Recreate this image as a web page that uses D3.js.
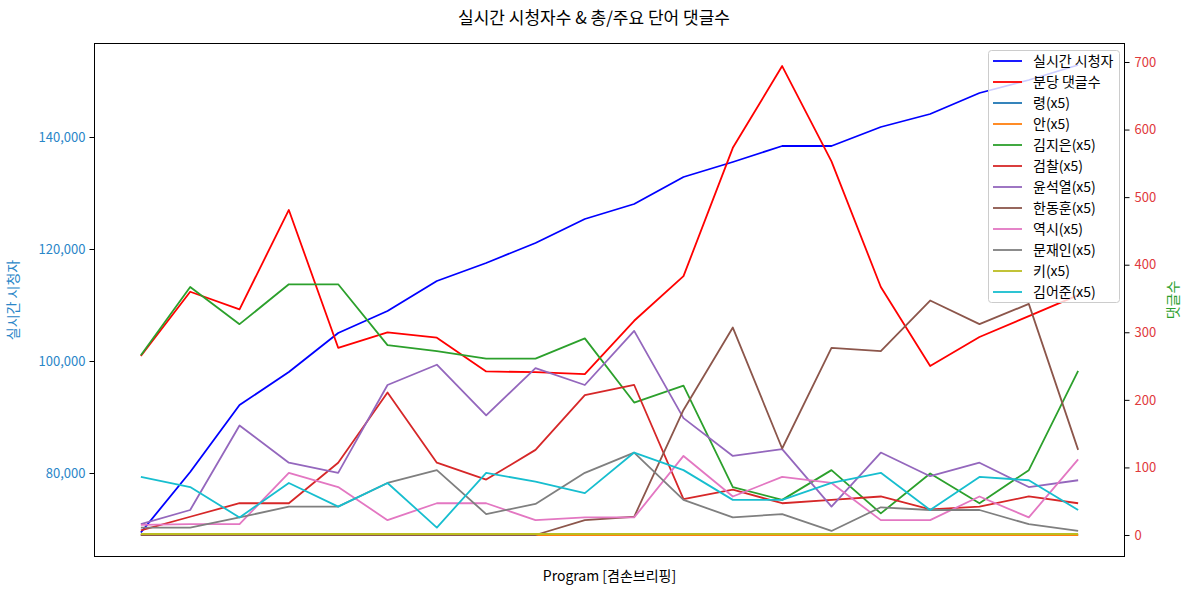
<!DOCTYPE html>
<html><head><meta charset="utf-8">
<script src="https://cdn.jsdelivr.net/npm/d3@7"></script>
<style>
html,body{margin:0;padding:0;background:#fff;}
text{font-family:"Noto Sans CJK KR","Noto Sans",sans-serif;}
</style></head>
<body><svg id="c" width="1189" height="592"></svg>
<script>
const title = "실시간 시청자수 & 총/주요 단어 댓글수";
const xLabel = "Program [겸손브리핑]";
const leftLabel = "실시간 시청자";
const rightLabel = "댓글수";
const leftTicks = [80000, 100000, 120000, 140000];
const rightTicks = [0, 100, 200, 300, 400, 500, 600, 700];
const points = d3.range(20);

const viewers = [69375,80179,92143,98036,105000,108929,114286,117500,121071,125357,128036,132857,135536,138393,138393,141786,144107,147857,150179,152857];
const commentsPerMin = [265,360,334,481,277,300,292,242,241,238,317,383,573,694,553,367,250,293,324,355];

const wordNames = ["령(x5)","안(x5)","김지은(x5)","검찰(x5)","윤석열(x5)","한동훈(x5)","역시(x5)","문재인(x5)","키(x5)","김어준(x5)"];
const wordColors = ["#1f77b4","#ff7f0e","#2ca02c","#d62728","#9467bd","#8c564b","#e377c2","#7f7f7f","#bcbd22","#17becf"];
const w_ryeong = [0,0,0,0,0,0,0,0,0,0,0,0,0,0,0,0,0,0,0,0];
const w_an = [0,0,0,0,0,0,0,0,0,0,0,0,0,0,0,0,0,0,0,0];
const w_kimjieun = [266,367,312,371,371,281,272,261,261,291,196,221,71,52,96,32,91,47,96,243];
const w_prosecution = [7,27,47,47,107,211,107,82,126,207,222,53,67,47,52,57,38,42,57,47];
const w_yoon = [16,37,162,107,92,222,252,177,247,222,302,173,117,127,42,122,87,107,71,81];
const w_han = [0,0,0,0,0,0,0,0,0,22,27,185,307,128,277,272,347,312,342,126];
const w_yeoksi = [15,16,16,92,71,22,47,47,22,26,26,117,57,86,77,22,22,57,26,112];
const w_moon = [11,11,26,42,42,77,96,31,46,92,122,52,26,31,6,41,37,37,16,6];
const w_key = [1.5,1.5,1.5,1.5,1.5,1.5,1.5,1.5,1.5,1.5,1.5,1.5,1.5,1.5,1.5,1.5,1.5,1.5,1.5,1.5];
const w_kimeojun = [86,71,26,77,42,77,11,92,79,62,122,96,52,52,77,92,37,86,81,37];
const wordSeries = [w_ryeong,w_an,w_kimjieun,w_prosecution,w_yoon,w_han,w_yeoksi,w_moon,w_key,w_kimeojun];

const svg = d3.select("#c");
const L = 94, R = 1125, T = 43, B = 557;
const x = d3.scaleLinear().domain([-0.95, 19.95]).range([L, R]);
const yL = d3.scaleLinear().domain([65000, 156786]).range([B, T]);
const yR = d3.scaleLinear().domain([-32.56, 728.1]).range([B, T]);

const leftColor = "#2a86c8", rightTickColor = "#e0393c", rightLabelColor = "#2ca02c";

// axes
const gl = svg.append("g").attr("transform", `translate(${L},0)`)
  .call(d3.axisLeft(yL).tickValues(leftTicks).tickFormat(d3.format(",")).tickSize(4.5).tickPadding(4));
gl.select(".domain").remove();
gl.selectAll(".tick line").attr("stroke", "#000");
gl.selectAll(".tick text").attr("fill", leftColor).style("font-size", "13px");

const gr = svg.append("g").attr("transform", `translate(${R},0)`)
  .call(d3.axisRight(yR).tickValues(rightTicks).tickFormat(d3.format("d")).tickSize(4.5).tickPadding(5));
gr.select(".domain").remove();
gr.selectAll(".tick line").attr("stroke", "#000");
gr.selectAll(".tick text").attr("fill", rightTickColor).style("font-size", "13px");

svg.append("clipPath").attr("id","clp").append("rect").attr("x",L).attr("y",T).attr("width",R-L).attr("height",B-T);
const plot = svg.append("g").attr("clip-path","url(#clp)");

const lineL = d3.line().x((d,i)=>x(points[i])).y(d=>yL(d));
const lineR = d3.line().x((d,i)=>x(points[i])).y(d=>yR(d));

plot.append("path").datum(viewers).attr("d", lineL).attr("fill","none").attr("stroke","#0000ff").attr("stroke-width",1.8).attr("stroke-linejoin","round");
plot.append("path").datum(commentsPerMin).attr("d", lineR).attr("fill","none").attr("stroke","#ff0000").attr("stroke-width",1.8).attr("stroke-linejoin","round");
wordSeries.forEach((s,k)=>{
  plot.append("path").datum(s).attr("d", lineR).attr("fill","none").attr("stroke",wordColors[k]).attr("stroke-width",1.8).attr("stroke-linejoin","round");
});

// frame
svg.append("rect").attr("x",L+0.5).attr("y",T+0.5).attr("width",R-L-1).attr("height",B-T-1).attr("fill","none").attr("stroke","#000").attr("stroke-width",1);

// titles
svg.append("text").attr("x",594).attr("y",24).attr("text-anchor","middle").style("font-size","17px").attr("fill","#000").text(title);
svg.append("text").attr("x",(L+R)/2).attr("y",581).attr("text-anchor","middle").style("font-size","14px").attr("fill","#000").text(xLabel);
svg.append("text").attr("transform",`translate(18,${(T+B)/2}) rotate(-90)`).attr("text-anchor","middle").style("font-size","14px").attr("fill",leftColor).text(leftLabel);
svg.append("text").attr("transform",`translate(1178,${(T+B)/2}) rotate(-90)`).attr("text-anchor","middle").style("font-size","14px").attr("fill",rightLabelColor).text(rightLabel);

// legend
const legNames = ["실시간 시청자","분당 댓글수"].concat(wordNames);
const legColors = ["#0000ff","#ff0000"].concat(wordColors);
const lg = svg.append("g");
lg.append("rect").attr("x",988.5).attr("y",50.5).attr("width",131).attr("height",252).attr("rx",3)
  .attr("fill","#fff").attr("fill-opacity",0.8).attr("stroke","#cccccc").attr("stroke-width",1);
legNames.forEach((n,i)=>{
  const yy = 61 + i*21;
  lg.append("line").attr("x1",993).attr("x2",1022).attr("y1",yy).attr("y2",yy).attr("stroke",legColors[i]).attr("stroke-width",1.8);
  lg.append("text").attr("x",1033).attr("y",yy).attr("dy","0.35em").style("font-size","14px").attr("fill","#000").text(n);
});
</script></body></html>
